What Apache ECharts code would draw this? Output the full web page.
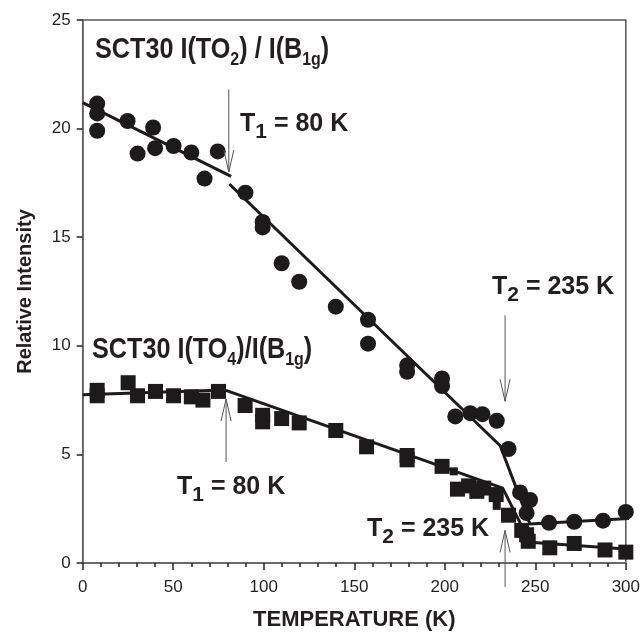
<!DOCTYPE html>
<html>
<head>
<meta charset="utf-8">
<script src="https://cdn.jsdelivr.net/npm/echarts@6/dist/echarts.min.js"></script>
<style>
  html, body { margin: 0; padding: 0; background: #fff; }
  #main { width: 643px; height: 636px; }
</style>
</head>
<body>
<div id="main"></div>
<script>
// TO2 / B1g ratio (circles)
const circleT = [8, 8, 8, 24.8, 30.3, 38.9, 40, 50.2, 60, 67.3, 74.6, 89.9, 99.4, 99.4, 109.9, 119.6,
  139.8, 157.6, 157.6, 179.2, 179.2, 198.5, 198.5, 205.8, 214.1, 220.8, 228.7, 235.2, 241.6, 247.1,
  245.2, 257.6, 271.5, 287.4, 300];
const circleI = [21.15, 20.7, 19.9, 20.35, 18.85, 20.05, 19.1, 19.2, 18.9, 17.7, 18.95, 17.05, 15.7, 15.45, 13.8, 12.95,
  11.8, 11.2, 10.1, 9.1, 8.8, 8.5, 8.15, 6.75, 6.9, 6.85, 6.55, 5.25, 3.25, 2.9,
  2.3, 1.85, 1.9, 1.95, 2.35];

// TO4 / B1g ratio (squares)
const squareT = [8, 8, 25.1, 30.3, 40.2, 50.2, 60, 66.4, 75, 89.7, 99.4, 99.4, 109.9, 119.6, 139.8, 156.8,
  179.2, 179.2, 198.5, 207, 213.2, 217.7, 221.5, 228.4, 235.2, 242.5, 245.2, 246.1, 258, 271.5, 288.5, 300];
const squareI = [7.95, 7.7, 8.3, 7.7, 7.9, 7.7, 7.65, 7.5, 7.9, 7.25, 6.8, 6.5, 6.65, 6.45, 6.1, 5.35,
  4.95, 4.75, 4.45, 3.4, 3.55, 3.3, 3.45, 3.15, 2.2, 1.5, 1.3, 1.0, 0.7, 0.9, 0.6, 0.5];
const smallSqT = [205, 228.7];
const smallSqI = [4.22, 2.63];

// fitted line pieces
const circleFitA = [[0, 21.2], [82, 17.8]];
const circleFitB = [[81, 17.45], [230.6, 5.4], [247, 1.8], [303, 2.05]];
const squareFit = [[0, 7.75], [78.3, 7.97], [232, 3.45], [247, 0.95], [307, 0.6]];

// transition arrows: temperature, tail value, tip value
const arrows = [
  [80.7, 21.8, 18.0],
  [79.2, 4.65, 7.55],
  [233.3, 11.4, 7.45],
  [233.3, -1.1, 1.5]
];

const ink = '#1c1a1b';
const font = 'Liberation Sans';
const zip = (a, b) => a.map((v, i) => [v, b[i]]);

const chart = echarts.init(document.getElementById('main'));

const fitLine = (d) => ({
  type: 'line', data: d, symbol: 'none', clip: false, z: 2,
  lineStyle: { color: ink, width: 3 }, animation: false
});

chart.setOption({
  animation: false,
  grid: { left: 82.7, right: 15.3, top: 20, bottom: 72, show: true, borderColor: '#555', borderWidth: 1.5 },
  xAxis: {
    type: 'value', min: 0, max: 300, interval: 50,
    name: 'TEMPERATURE (K)', nameLocation: 'middle', nameGap: 46,
    nameTextStyle: { fontFamily: font, fontWeight: 'bold', fontSize: 22, color: '#231f20' },
    axisLine: { lineStyle: { color: '#666', width: 1.5 } },
    axisTick: { length: 7, lineStyle: { color: '#222', width: 1.5 } },
    minorTick: { show: true, splitNumber: 5, length: 4, lineStyle: { color: '#222', width: 1.5 } },
    axisLabel: { fontFamily: font, fontSize: 17, color: '#231f20', margin: 16 },
    splitLine: { show: false }
  },
  yAxis: {
    type: 'value', min: 0, max: 25, interval: 5,
    name: 'Relative Intensity', nameLocation: 'middle', nameGap: 47,
    nameTextStyle: { fontFamily: font, fontWeight: 'bold', fontSize: 20, color: '#231f20' },
    axisLine: { show: true, lineStyle: { color: '#666', width: 1.5 } },
    axisTick: { show: true, length: 6, lineStyle: { color: '#222', width: 1.5 } },
    axisLabel: { fontFamily: font, fontSize: 17, color: '#231f20', margin: 12 },
    splitLine: { show: false }
  },
  series: [
    fitLine(circleFitA),
    fitLine(circleFitB),
    fitLine(squareFit),
    { type: 'scatter', data: zip(circleT, circleI), symbol: 'circle', symbolSize: 16,
      itemStyle: { color: ink, opacity: 1 }, z: 3 },
    { type: 'scatter', data: zip(squareT, squareI), symbol: 'rect', symbolSize: 15,
      itemStyle: { color: ink, opacity: 1 }, z: 3 },
    { type: 'scatter', data: zip(smallSqT, smallSqI), symbol: 'rect', symbolSize: 8,
      itemStyle: { color: ink, opacity: 1 }, z: 3 }
  ]
});

// rich text helpers: subscripts pushed down through a taller line box
const titleRich = {
  m: { fontFamily: font, fontWeight: 'bold', fontSize: 30, lineHeight: 30, verticalAlign: 'top', fill: '#231f20' },
  s: { fontFamily: font, fontWeight: 'bold', fontSize: 19, lineHeight: 35, verticalAlign: 'bottom', fill: '#231f20' }
};
const tRich = {
  m: { fontFamily: font, fontWeight: 'bold', fontSize: 25, lineHeight: 26, verticalAlign: 'top', fill: '#231f20' },
  s: { fontFamily: font, fontWeight: 'bold', fontSize: 21, lineHeight: 31, verticalAlign: 'bottom', fill: '#231f20' }
};
const label = (x, y, text, rich, sx) => ({
  type: 'text', x: x, y: y, scaleX: sx || 1, z: 10,
  style: { text: text, rich: rich, align: 'left', verticalAlign: 'top' }
});

const graphics = [
  label(95, 34.6, '{m|SCT30 I(TO}{s|2}{m|) / I(B}{s|1g}{m|)}', titleRich, 0.84),
  label(92, 334.6, '{m|SCT30 I(TO}{s|4}{m|)/I(B}{s|1g}{m|)}', titleRich, 0.84),
  label(240, 133.3 - 21.7, '{m|T}{s|1}{m| = 80 K}', tRich),
  label(492, 296.7 - 21.7, '{m|T}{s|2}{m| = 235 K}', tRich),
  label(177, 496.7 - 21.7, '{m|T}{s|1}{m| = 80 K}', tRich),
  label(367, 538 - 21.7, '{m|T}{s|2}{m| = 235 K}', tRich)
];

arrows.forEach(function (a) {
  const tail = chart.convertToPixel({ xAxisIndex: 0, yAxisIndex: 0 }, [a[0], a[1]]);
  const tip = chart.convertToPixel({ xAxisIndex: 0, yAxisIndex: 0 }, [a[0], a[2]]);
  const dir = tip[1] > tail[1] ? 1 : -1;
  const ls = { stroke: '#555', lineWidth: 1, fill: null };
  graphics.push({ type: 'line', z: 9, shape: { x1: tail[0], y1: tail[1], x2: tip[0], y2: tip[1] }, style: ls });
  graphics.push({ type: 'polyline', z: 9, shape: { points: [
    [tip[0] - 5, tip[1] - dir * 22], [tip[0], tip[1]], [tip[0] + 5, tip[1] - dir * 22]
  ] }, style: ls });
});

chart.setOption({ graphic: graphics });
</script>
</body>
</html>
